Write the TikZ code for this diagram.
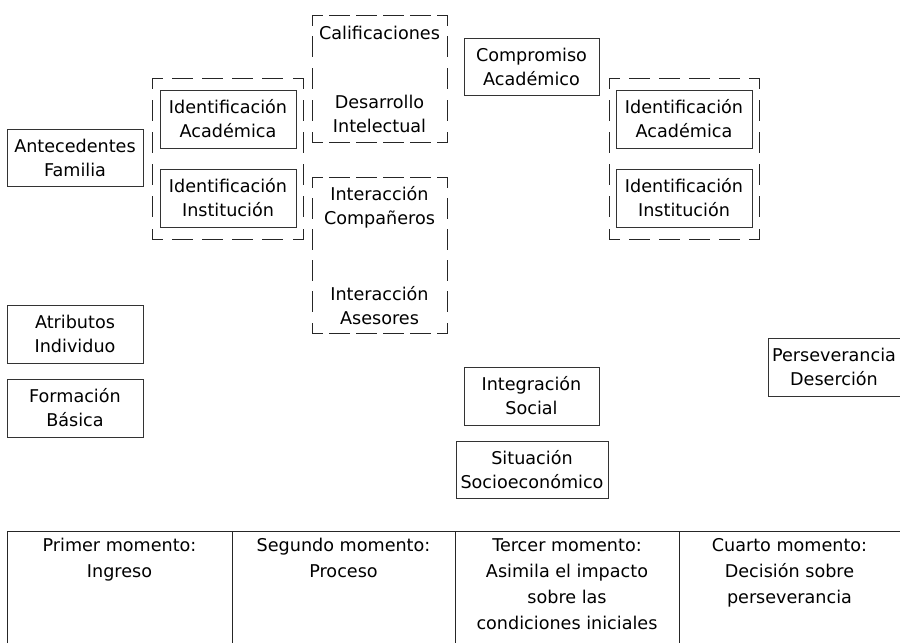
\documentclass[tikz,border=0pt]{standalone}
\usepackage{fontspec}
\setmainfont{DejaVu Sans}
\usepackage{tikz}
\usetikzlibrary{positioning}

\tikzset{
    caja/.style={draw=black!80, line width=1pt, inner sep=0pt, align=center,
        font=\fontsize{17.6}{24}\selectfont},
    texto/.style={inner sep=0pt, align=center, font=\fontsize{17.6}{24}\selectfont},
    celda/.style={inner sep=0pt, align=center, anchor=north, font=\fontsize{17.6}{26}\selectfont},
    grupo/.style={draw=black!85, line width=1pt, line cap=rect}
}

% one dashed side: half dashes at both ends
\newcommand{\ladogrupo}[5]{%
    \pgfmathsetmacro{\ndash}{round((#5-30)/30)}
    \pgfmathsetmacro{\hueco}{(#5-20-20*\ndash)/(\ndash+1)}
    \draw[grupo, dash pattern=on 20pt off \hueco pt, dash phase=10pt] (#1,#2) -- (#3,#4);
}
% dashed group frame
\newcommand{\cajagrupo}[4]{%
    \ladogrupo{#1}{#2}{#3}{#2}{#3-#1}
    \ladogrupo{#3}{#2}{#3}{#4}{#4-#2}
    \ladogrupo{#3}{#4}{#1}{#4}{#3-#1}
    \ladogrupo{#1}{#4}{#1}{#2}{#4-#2}
}

\begin{document}
\begin{tikzpicture}[x=1pt, y=-1pt]
    \useasboundingbox (0,0) rectangle (900,643);
    % Dashed groups
    \cajagrupo{152}{78}{303}{239}
    \cajagrupo{312}{15}{447}{142}
    \cajagrupo{312}{177}{447}{333}
    \cajagrupo{609}{78}{759}{239}
    % Boxes of the first moment
    \node[caja, minimum width=136pt, minimum height=57pt] (familia) at (75,157.5) {Antecedentes\\Familia};
    \node[caja, minimum width=136pt, minimum height=58pt] (atributos) at (75,334) {Atributos\\Individuo};
    \node[caja, minimum width=136pt, minimum height=58pt] (formacion) at (75,408) {Formación\\Básica};
    % Identification (left)
    \node[caja, minimum width=136pt, minimum height=58pt] (idacadL) at (228,119) {Identificación\\Académica};
    \node[caja, minimum width=136pt, minimum height=58pt] (idinstL) at (228,198) {Identificación\\Institución};
    % Process texts
    \node[texto] (calif) at (379.5,33) {Calificaciones};
    \node[texto] (desarrollo) at (379.5,114) {Desarrollo\\Intelectual};
    \node[texto] (companeros) at (379.5,207) {Interacción\\Compañeros};
    \node[texto] (asesores) at (379.5,306) {Interacción\\Asesores};
    % Third moment
    \node[caja, minimum width=135pt, minimum height=57pt] (compromiso) at (531.5,66.5) {Compromiso\\Académico};
    \node[caja, minimum width=135pt, minimum height=58pt] (integracion) at (531.5,396) {Integración\\Social};
    \node[caja, minimum width=152pt, minimum height=57pt] (socio) at (532,469.5) {Situación\\Socioeconómico};
    % Identification (right)
    \node[caja, minimum width=136pt, minimum height=58pt] (idacadR) at (684,119) {Identificación\\Académica};
    \node[caja, minimum width=136pt, minimum height=58pt] (idinstR) at (684,198) {Identificación\\Institución};
    % Outcome
    \node[caja, minimum width=132pt, minimum height=58pt] (perseverancia) at (834,367) {Perseverancia\\Deserción};
    % Table of moments
    \draw[black!85, line width=1pt] (7,643) -- (7,531) -- (900,531);
    \foreach \x in {232,455,679} {
        \draw[black!85, line width=1pt] (\x,531) -- (\x,643);
    }
    \node[celda] (primero) at (119.5,538) {Primer momento:\\Ingreso};
    \node[celda] (segundo) at (343.5,538) {Segundo momento:\\Proceso};
    \node[celda] (tercero) at (567,538) {Tercer momento:\\Asimila el impacto\\sobre las\\condiciones iniciales};
    \node[celda] (cuarto) at (789.5,538) {Cuarto momento:\\Decisión sobre\\perseverancia};
\end{tikzpicture}
\end{document}
